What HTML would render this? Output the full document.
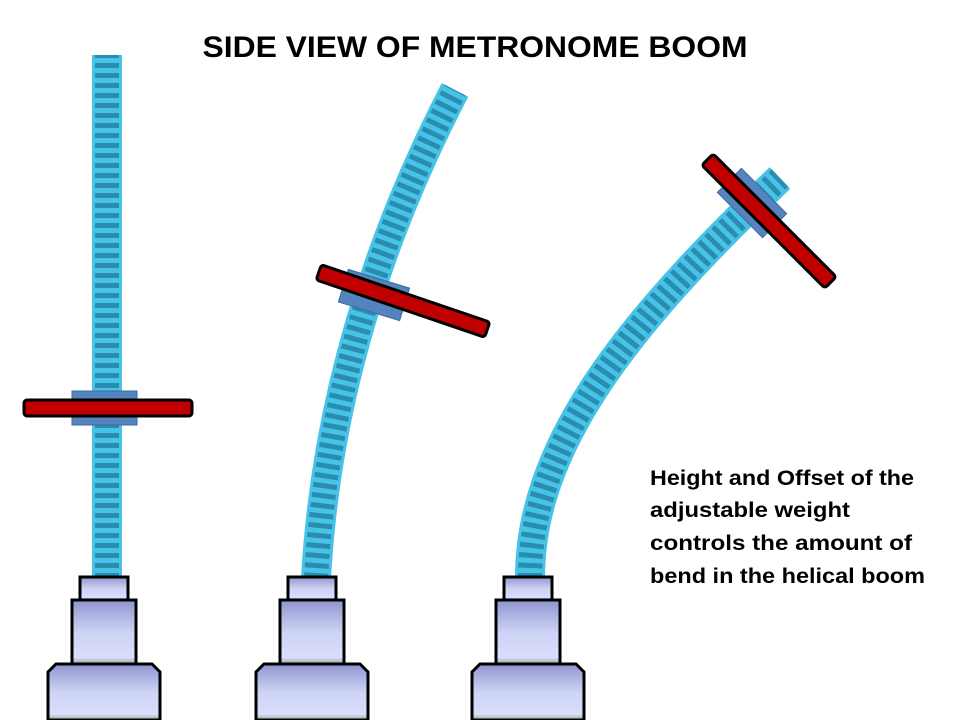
<!DOCTYPE html>
<html><head><style>
body{margin:0;background:#fff;}
svg{display:block}
text{font-family:"Liberation Sans",sans-serif;font-weight:bold;}
</style></head><body>
<svg width="960" height="720" viewBox="0 0 960 720">
<defs>
<linearGradient id="g" x1="0" y1="0" x2="0" y2="1">
<stop offset="0" stop-color="#8f95cf"/><stop offset="0.5" stop-color="#cdd3f5"/><stop offset="0.9" stop-color="#d8defa"/><stop offset="1" stop-color="#9aa898"/>
</linearGradient>
</defs>
<text x="475" y="57" font-size="30" text-anchor="middle" textLength="545" lengthAdjust="spacingAndGlyphs">SIDE VIEW OF METRONOME BOOM</text>

<g fill="none" stroke-linecap="butt">
<path d="M107,578 L107,55" stroke="#46c3e6" stroke-width="30"/>
<path d="M107,578 L107,55" stroke="#2a8db0" stroke-width="24" stroke-dasharray="5 5"/>
<path d="M316,578 Q330,330 455,90" stroke="#46c3e6" stroke-width="30"/>
<path d="M316,578 Q330,330 455,90" stroke="#2a8db0" stroke-width="24" stroke-dasharray="5 5"/>
<path d="M530,578 C530,450 620,330 780,178" stroke="#46c3e6" stroke-width="30"/>
<path d="M530,578 C530,450 620,330 780,178" stroke="#2a8db0" stroke-width="24" stroke-dasharray="5 5"/>
</g>

<rect x="72" y="391" width="65" height="34" fill="#5483bd" stroke="#3e6a9e"/>
<rect x="24" y="400" width="168" height="16" rx="3" fill="#c00000" stroke="#000" stroke-width="3"/>

<g transform="translate(374,295) rotate(17)">
<rect x="-32" y="-17" width="64" height="34" fill="#5483bd" stroke="#3e6a9e"/>
</g>
<g transform="translate(403,301) rotate(18.8)">
<rect x="-89" y="-8" width="178" height="16" rx="3" fill="#c00000" stroke="#000" stroke-width="3"/>
</g>
<g transform="translate(752,203) rotate(45)">
<rect x="-32" y="-17" width="64" height="34" fill="#5483bd" stroke="#3e6a9e"/>
</g>
<g transform="translate(769,221) rotate(45)">
<rect x="-87" y="-8" width="174" height="16" rx="3" fill="#c00000" stroke="#000" stroke-width="3"/>
</g>

<g fill="url(#g)" stroke="#000" stroke-width="3">
<rect x="80" y="577" width="48" height="23"/>
<rect x="72" y="600" width="64" height="64"/>
<path d="M56,664 H152 L160,672 V720 H48 V672 Z"/>
<rect x="288" y="577" width="48" height="23"/>
<rect x="280" y="600" width="64" height="64"/>
<path d="M264,664 H360 L368,672 V720 H256 V672 Z"/>
<rect x="504" y="577" width="48" height="23"/>
<rect x="496" y="600" width="64" height="64"/>
<path d="M480,664 H576 L584,672 V720 H472 V672 Z"/>
</g>

<g font-size="21">
<text x="650" y="485" textLength="264" lengthAdjust="spacingAndGlyphs">Height and Offset of the</text>
<text x="650" y="517" textLength="200" lengthAdjust="spacingAndGlyphs">adjustable weight</text>
<text x="650" y="550" textLength="262" lengthAdjust="spacingAndGlyphs">controls the amount of</text>
<text x="650" y="583" textLength="275" lengthAdjust="spacingAndGlyphs">bend in the helical boom</text>
</g>
</svg>
</body></html>
